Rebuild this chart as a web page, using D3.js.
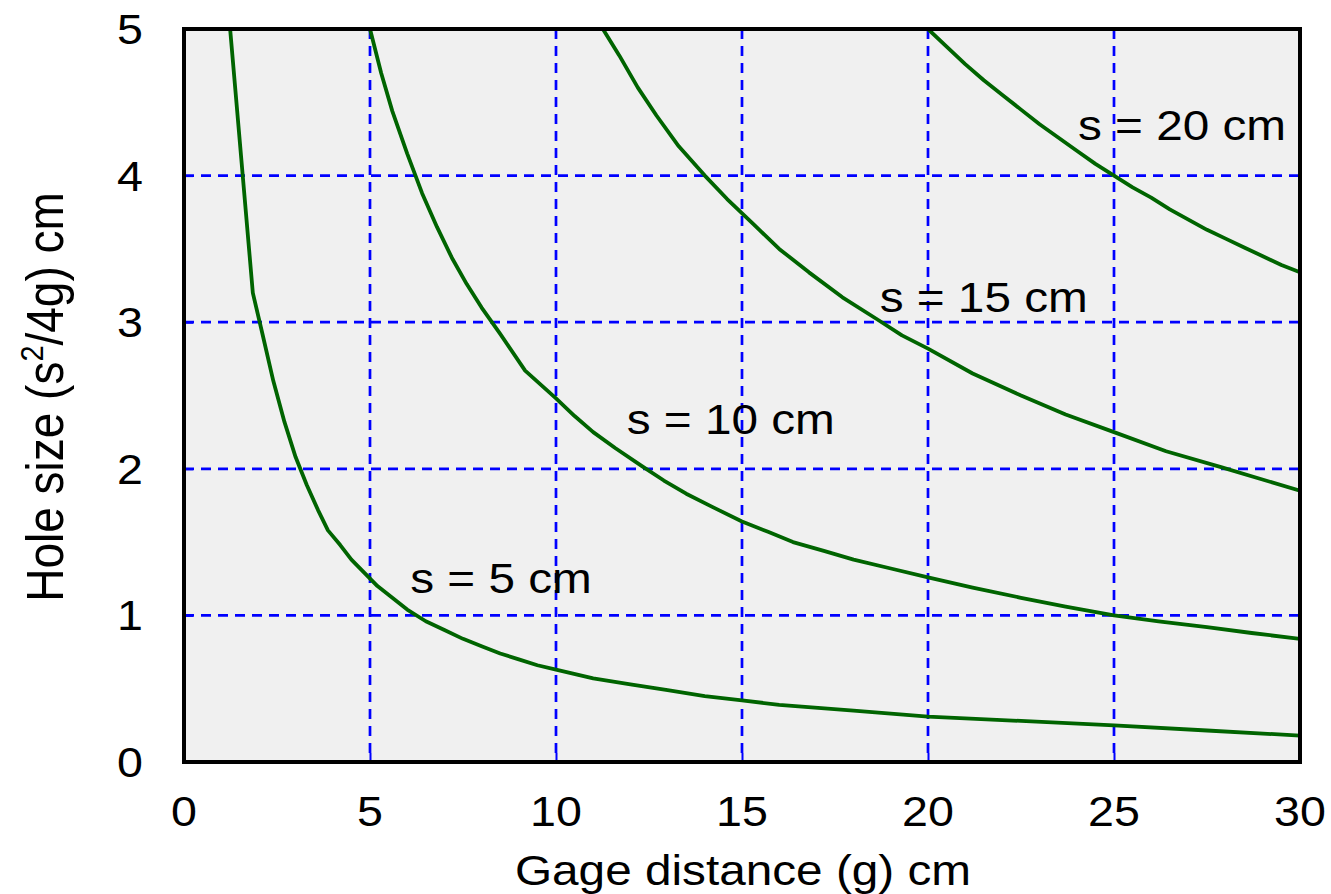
<!DOCTYPE html>
<html>
<head>
<meta charset="utf-8">
<script src="https://cdn.jsdelivr.net/npm/d3@7/dist/d3.min.js"></script>
<style>
  body { margin: 0; background: #fff; }
  text { font-family: "Liberation Sans", Arial, sans-serif; fill: #000; }
</style>
</head>
<body>
<svg width="1331" height="894"></svg>
<script>
// curves: [gage distance g, hole size]
const s5 = [[1.24,5],[1.85,3.2],[2.1,2.93],[2.4,2.6],[2.7,2.32],[3.0,2.08],[3.3,1.89],[3.6,1.72],
  [3.87,1.58],[4.2,1.48],[4.5,1.38],[4.85,1.29],[5.2,1.2],[5.6,1.12],[6,1.04],[6.5,0.96],[7,0.9],
  [7.5,0.84],[8,0.79],[8.5,0.74],[9,0.7],[9.5,0.66],[10,0.63],[11,0.57],[12,0.53],[13,0.49],
  [14,0.45],[15,0.42],[16,0.39],[18,0.35],[20,0.31],[22.5,0.28],[25,0.25],[27.5,0.215],[30,0.18]]
const s10 = [[5,5],[5.3,4.7],[5.6,4.44],[6,4.15],[6.4,3.88],[6.8,3.65],[7.2,3.44],[7.6,3.26],
  [8,3.1],[8.5,2.92],[9.17,2.67],[10,2.48],[10.5,2.36],[11,2.25],[11.6,2.14],[12.3,2.02],
  [12.9,1.92],[13.5,1.83],[14.2,1.74],[15,1.64],[15.7,1.57],[16.37,1.5],[17.2,1.44],[18,1.38],
  [19,1.32],[20,1.26],[21.2,1.19],[22.5,1.12],[23.7,1.06],[25,1.0],[26.2,0.96],[27.5,0.92],
  [28.7,0.88],[30,0.84]]
const s15 = [[11.26,5],[11.7,4.82],[12.2,4.6],[12.7,4.41],[13.3,4.2],[14,4.0],[14.6,3.84],
  [15.3,3.67],[16,3.5],[16.8,3.34],[17.7,3.17],[18.63,3.02],[19.3,2.91],[20,2.82],[21.2,2.65],
  [22.5,2.5],[23.7,2.37],[25,2.25],[26.4,2.12],[27.9,2.01],[30,1.85]]
const s20 = [[20,5],[20.5,4.88],[21,4.76],[21.5,4.65],[22,4.55],[22.5,4.45],[23,4.35],[23.5,4.26],
  [24,4.17],[24.5,4.08],[25,4.0],[25.5,3.92],[26,3.85],[26.5,3.77],[27,3.7],[27.5,3.63],[28,3.57],
  [28.5,3.51],[29,3.45],[29.5,3.39],[30,3.34]]
const curves = [s5, s10, s15, s20]

const curveLabels = ["s = 5 cm", "s = 10 cm", "s = 15 cm", "s = 20 cm"]
const labelAt = [[6.08,1.15],[11.9,2.24],[18.7,3.07],[24.03,4.24]]

const xTicks = [0,5,10,15,20,25,30]
const yTicks = [0,1,2,3,4,5]

const svg = d3.select("svg")
const pLeft = 184, pRight = 1300, pTop = 29, pBottom = 762
const stretch = 1.11  // text in the picture is a bit wider than tall

const x = d3.scaleLinear().domain([0,30]).range([pLeft,pRight])
const y = d3.scaleLinear().domain([0,5]).range([pBottom,pTop])

svg.append("clipPath").attr("id","plotclip")
   .append("rect").attr("x",pLeft).attr("y",pTop).attr("width",pRight-pLeft).attr("height",pBottom-pTop)

svg.append("rect").attr("x",pLeft).attr("y",pTop).attr("width",pRight-pLeft).attr("height",pBottom-pTop)
   .attr("fill","#f0f0f0")

// dashed grid
const grid = svg.append("g").attr("stroke","#0000ff").attr("stroke-width",2.7)
  .attr("stroke-dasharray","10,7").attr("fill","none")
grid.selectAll(".vg").data(xTicks.slice(1,-1)).enter().append("line").attr("class","vg")
  .attr("x1",d=>x(d)).attr("x2",d=>x(d)).attr("y1",pTop).attr("y2",pBottom)
grid.selectAll(".hg").data(yTicks.slice(1,-1)).enter().append("line").attr("class","hg")
  .attr("x1",pLeft).attr("x2",pRight).attr("y1",d=>y(d)).attr("y2",d=>y(d))

// axes: inner blue ticks, labels outside
const xAxis = svg.append("g").attr("transform",`translate(0,${pBottom})`)
  .call(d3.axisBottom(x).tickValues(xTicks).tickSize(-9).tickFormat(""))
xAxis.select(".domain").remove()
xAxis.selectAll(".tick line").attr("stroke","#0000ff").attr("stroke-width",2)
const yAxis = svg.append("g").attr("transform",`translate(${pLeft},0)`)
  .call(d3.axisLeft(y).tickValues(yTicks).tickSize(-9).tickFormat(""))
yAxis.select(".domain").remove()
yAxis.selectAll(".tick line").attr("stroke","#0000ff").attr("stroke-width",2)

svg.selectAll(".xl").data(xTicks).enter().append("text").attr("class","xl")
  .attr("transform",d=>`translate(${x(d)},826) scale(${stretch},1)`)
  .attr("text-anchor","middle").attr("font-size",42).text(d=>d)
svg.selectAll(".yl").data(yTicks).enter().append("text").attr("class","yl")
  .attr("transform",d=>`translate(143,${y(d)+15}) scale(${stretch},1)`)
  .attr("text-anchor","end").attr("font-size",42).text(d=>d)

// curves
const line = d3.line().x(d=>x(d[0])).y(d=>y(d[1]))
svg.append("g").attr("clip-path","url(#plotclip)")
  .selectAll("path").data(curves).enter().append("path")
  .attr("d",line).attr("fill","none").attr("stroke","#006400").attr("stroke-width",3.8)
  .attr("stroke-linejoin","round")

svg.selectAll(".cl").data(curveLabels).enter().append("text").attr("class","cl")
  .attr("transform",(d,i)=>`translate(${x(labelAt[i][0])},${y(labelAt[i][1])}) scale(${stretch},1)`)
  .attr("font-size",43).text(d=>d)

// frame
svg.append("rect").attr("x",pLeft).attr("y",pTop).attr("width",pRight-pLeft).attr("height",pBottom-pTop)
   .attr("fill","none").attr("stroke","#000").attr("stroke-width",4)

// titles
svg.append("text").attr("transform",`translate(743,885) scale(${stretch},1)`)
  .attr("text-anchor","middle").attr("font-size",43).text("Gage distance (g) cm")

const yt = svg.append("text").attr("transform",`translate(63,397) scale(${stretch},1) rotate(-90)`)
  .attr("text-anchor","middle").attr("font-size",46)
yt.append("tspan").text("Hole size (s")
yt.append("tspan").attr("font-size",29).attr("dy",-18).text("2")
yt.append("tspan").attr("dy",18).text("/4g) cm")
</script>
</body>
</html>
